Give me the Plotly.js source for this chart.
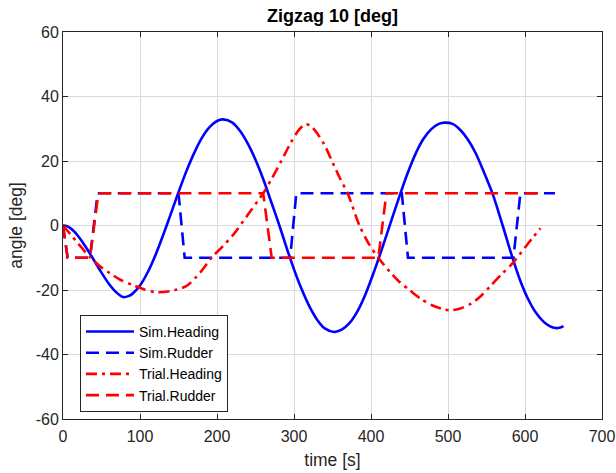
<!DOCTYPE html>
<html>
<head>
<meta charset="utf-8">
<script src="https://cdn.plot.ly/plotly-3.0.1.min.js"></script>
<style>html,body{margin:0;padding:0;background:#fff;}#chart{width:616px;height:473px;}</style>
</head>
<body>
<div id="chart"></div>
<script>
// Sim.Heading
const simHeadingT = [0,5,10,15,20,25,30,35,40,50,60,70,78,85,90,100,110,120,130,140,150,160,170,180,190,200,208,220,230,240,250,260,270,281,290,300,310,320,330,340,352,362,372,382,392,402,412,425,438,448,458,468,478,488,496,506,516,526,536,546,558,571,584,594,604,614,624,632,640,646,650];
const simHeadingV = [0,-0.2,-0.9,-2.0,-3.4,-5.0,-6.8,-8.7,-10.7,-14.6,-18.2,-20.9,-22.2,-21.9,-21.2,-18.6,-14.5,-9.2,-3.0,3.6,10.3,16.7,22.3,27.0,30.4,32.4,32.9,31.9,29.3,25.4,20.4,14.4,7.6,0,-6.6,-13.6,-19.8,-25.1,-29.2,-31.9,-33,-32.3,-30.3,-26.8,-21.8,-15.6,-8.8,0.5,9.8,16.5,22.3,26.8,29.8,31.5,31.9,31.5,29.6,26.6,22.4,16.9,9.8,0,-10.2,-17.2,-22.8,-27.0,-29.8,-31.2,-31.8,-31.6,-31.2];
// Sim.Rudder
const simRudderT = [0,6,35,45,150,158,295,303,440,448,585,594,639];
const simRudderV = [0,-10,-10,10,10,-10,-10,10,10,-10,-10,10,10];
// Trial.Heading
const trialHeadingT = [0,10,20,35,50,61,75,91,105,121,140,160,178,193,208,221,240,260,272,284,295,305,312,316,322,330,340,350,360,370,385,397,409.5,425,437,450,465,480,493,503,515,530,542,555,570,584,600,610,620];
const trialHeadingV = [0,-2.8,-5.7,-9.8,-13,-14.8,-16.9,-18.5,-19.8,-20.7,-20.3,-18.8,-14.6,-10,-6.3,-2.9,3.3,10,14.9,20.2,25.3,29.2,31,31.4,30.8,28.6,24.8,19.6,14.5,9.8,0,-5.6,-10,-14.5,-17.5,-20,-22.8,-24.8,-25.9,-26.3,-25.8,-24.2,-22,-18.8,-15,-11.7,-6.8,-3.8,-0.9];
// Trial.Rudder
const trialRudderT = [0,6,35,46,260,271,409.5,420,620];
const trialRudderV = [0,-10,-10,10,10,-10,-10,10,10];

const xTicks = [0,100,200,300,400,500,600,700];
const yTicks = [-60,-40,-20,0,20,40,60];

const BLUE = '#0000ff', RED = '#ff0000';
const FONT = 'Liberation Sans, Arial, sans-serif';
const traces = [
  {x: simHeadingT, y: simHeadingV, name: 'Sim.Heading', mode: 'lines', line: {color: BLUE, width: 2.6, shape: 'spline', smoothing: 0.8}},
  {x: simRudderT, y: simRudderV, name: 'Sim.Rudder', mode: 'lines', line: {color: BLUE, width: 2.6, dash: '13px,7px'}},
  {x: trialHeadingT, y: trialHeadingV, name: 'Trial.Heading', mode: 'lines', line: {color: RED, width: 2.6, dash: '11px,5px,3px,5px', shape: 'spline', smoothing: 0.8}},
  {x: trialRudderT, y: trialRudderV, name: 'Trial.Rudder', mode: 'lines', line: {color: RED, width: 2.6, dash: '13px,7px'}}
];

const axisCommon = {
  showline: true, mirror: 'ticks', linecolor: '#262626', linewidth: 1,
  ticks: 'inside', ticklen: 5, tickcolor: '#262626', tickwidth: 1,
  showgrid: true, gridcolor: '#dadada', gridwidth: 1, zeroline: false,
  tickfont: {family: FONT, size: 16, color: '#262626'}
};

const layout = {
  width: 616, height: 473,
  margin: {l: 63, r: 14, t: 32, b: 54},
  paper_bgcolor: '#ffffff', plot_bgcolor: '#ffffff',
  title: {text: '<b>Zigzag 10 [deg]</b>', x: 0.5, xref: 'paper', xanchor: 'center', y: 1, yref: 'paper', yanchor: 'bottom', pad: {b: 10},
    font: {family: FONT, size: 18, color: '#000000'}},
  xaxis: Object.assign({}, axisCommon, {range: [0, 700], tickvals: xTicks, ticktext: xTicks.map(String), ticklabelstandoff: 3,
    title: {text: 'time [s]', standoff: 9, font: {family: FONT, size: 17.5, color: '#262626'}}}),
  yaxis: Object.assign({}, axisCommon, {range: [-60, 60], tickvals: yTicks, ticktext: yTicks.map(String),
    title: {text: 'angle [deg]', standoff: 8, font: {family: FONT, size: 17.5, color: '#262626'}}}),
  showlegend: true,
  legend: {x: 0.0315, y: 0.269, xanchor: 'left', yanchor: 'top', bgcolor: '#ffffff', bordercolor: '#262626', borderwidth: 1,
    font: {family: FONT, size: 14, color: '#000000'}, itemwidth: 48, tracegroupgap: 0}
};

Plotly.newPlot('chart', traces, layout, {displayModeBar: false, staticPlot: true});
</script>
</body>
</html>
